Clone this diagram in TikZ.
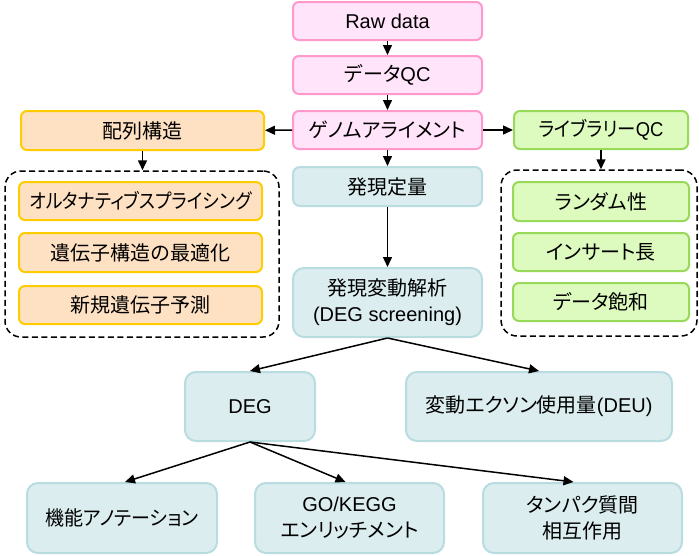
\documentclass[tikz,border=0pt]{standalone}
\usepackage{fontspec}
\setmainfont{Liberation Sans}
\newfontfamily\jp[RawFeature=+palt]{Noto Sans CJK JP}
\usetikzlibrary{arrows.meta}
\definecolor{pinkfill}{HTML}{FFE4FA}
\definecolor{pinkline}{HTML}{FF99CC}
\definecolor{orfill}{HTML}{FEE0C2}
\definecolor{orline}{HTML}{FFCC00}
\definecolor{grfill}{HTML}{DDFBBE}
\definecolor{grline}{HTML}{99D95A}
\definecolor{tlfill}{HTML}{DBEDEF}
\definecolor{tlline}{HTML}{B8DCE0}
\tikzset{
  basebox/.style={rectangle, inner sep=0pt, line width=2pt, align=center,
    font=\fontsize{20}{26}\selectfont},
  pinkbox/.style={basebox, draw=pinkline, fill=pinkfill, rounded corners=6pt},
  orbox/.style={basebox, draw=orline, fill=orfill, rounded corners=6pt},
  grbox/.style={basebox, draw=grline, fill=grfill, rounded corners=6pt},
  tlbox/.style={basebox, draw=tlline, fill=tlfill, rounded corners=11pt},
  groupbox/.style={rectangle, draw=black, line width=1.5pt, dash pattern=on 6pt off 3.5pt, rounded corners=16pt, inner sep=0pt},
  arr/.style={line width=1.5pt, -{Triangle[length=10pt,width=9pt]}}
}
\begin{document}
\begin{tikzpicture}[x=1pt,y=-1pt]
\useasboundingbox (0,0) rectangle (699,555);
% center column
\node[pinkbox, minimum width=189pt, minimum height=38pt] (raw) at (387.5,21) {Raw data};
\node[pinkbox, minimum width=189pt, minimum height=38pt] (dqc) at (387.5,75) {{\jp データ}QC};
\node[pinkbox, minimum width=189pt, minimum height=38pt] (aln) at (387.5,130) {\jp ゲノムアライメント};
\node[tlbox, rounded corners=7pt, minimum width=189pt, minimum height=39pt] (quant) at (387.5,186.5) {\jp 発現定量};
\node[tlbox, minimum width=189pt, minimum height=69pt] (degs) at (387.5,302.5) {{\jp 発現変動解析}\\(DEG screening)};
% left branch
\node[orbox, minimum width=243pt, minimum height=39pt] (seq) at (142.5,130.5) {\jp 配列構造};
\node[groupbox, minimum width=274pt, minimum height=166pt] (lg) at (142,254) {};
\node[orbox, minimum width=243pt, minimum height=38pt] (alt) at (140.5,201) {\scalebox{0.89}[1]{\jp オルタナティブスプライシング}};
\node[orbox, minimum width=243pt, minimum height=39pt] (opt) at (140.5,252.5) {\jp 遺伝子構造の最適化};
\node[orbox, minimum width=243pt, minimum height=38pt] (nov) at (140.5,305) {\jp 新規遺伝子予測};
% right branch
\node[grbox, minimum width=174pt, minimum height=38pt] (lqc) at (601,130) {\scalebox{0.92}[1]{{\jp ライブラリー}QC}};
\node[groupbox, minimum width=196pt, minimum height=166pt] (rg) at (599,253) {};
\node[grbox, minimum width=176pt, minimum height=39pt] (rnd) at (601,201.5) {\jp ランダム性};
\node[grbox, minimum width=176pt, minimum height=38pt] (ins) at (601,252) {\jp インサート長};
\node[grbox, minimum width=176pt, minimum height=38pt] (sat) at (601,302) {\jp データ飽和};
% lower
\node[tlbox, minimum width=130pt, minimum height=69pt] (deg) at (250,406.5) {DEG};
\node[tlbox, minimum width=266pt, minimum height=69pt] (deu) at (539,406.5) {{\jp 変動エクソン使用量}(DEU)};
\node[tlbox, minimum width=190pt, minimum height=70pt] (func) at (122,518) {\scalebox{0.95}[1]{\jp 機能アノテーション}};
\node[tlbox, minimum width=189pt, minimum height=70pt] (go) at (349.5,518) {GO/KEGG\\{\jp エンリッチメント}};
\node[tlbox, minimum width=199pt, minimum height=70pt] (ppi) at (582.5,518) {{\jp タンパク質間}\\{\jp 相互作用}};
% connectors
\draw[arr] (raw) -- (dqc);
\draw[arr] (dqc) -- (aln);
\draw[arr] (aln) -- (quant);
\draw[arr] (quant) -- (degs);
\draw[arr] (aln) -- (seq);
\draw[arr] (aln) -- (lqc);
\draw[arr] (seq.south) -- (seq.south |- lg.north);
\draw[arr] (lqc.south) -- (lqc.south |- rg.north);
\draw[arr] (degs.south) -- (deg.north);
\draw[arr] (degs.south) -- (deu.north);
\draw[arr] (deg.south) -- ([xshift=3pt]func.north);
\draw[arr] (deg.south) -- ([xshift=-4pt]go.north);
\draw[arr] (deg.south) -- ([xshift=-9pt]ppi.north);
\end{tikzpicture}
\end{document}
